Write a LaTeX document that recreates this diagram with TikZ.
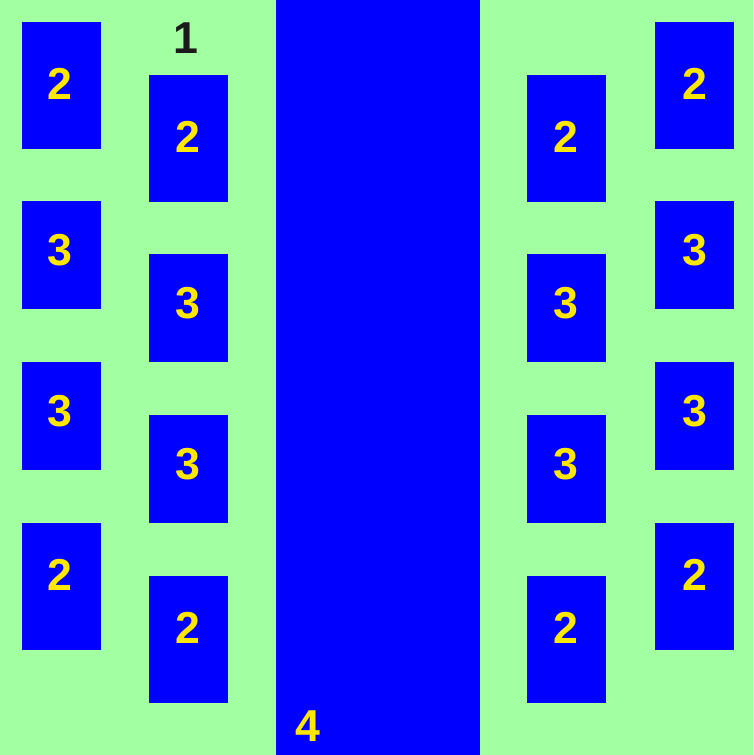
\documentclass[tikz,border=0pt]{standalone}
\usepackage{fontspec}
\setmainfont{Liberation Sans}
\definecolor{bggreen}{HTML}{A2FFA2}
\definecolor{padblue}{HTML}{0000FF}
\definecolor{lblyellow}{HTML}{FFE800}
\definecolor{lbldark}{HTML}{1A1A1A}
\tikzset{
  pad/.style={fill=padblue, draw=none, inner sep=0pt, minimum width=79pt},
  tallpad/.style={pad, minimum height=127pt},
  shortpad/.style={pad, minimum height=108pt},
  lbl/.style={inner sep=0pt, text=lblyellow, font=\fontsize{44.7}{50}\selectfont\bfseries},
  darklbl/.style={lbl, text=lbldark}
}
\begin{document}
\begin{tikzpicture}[x=1pt,y=-1pt]
\fill[bggreen] (0,0) rectangle (753,755);
\useasboundingbox (0,0) rectangle (753,755);
% central pad
\node[fill=padblue, inner sep=0pt, minimum width=204.5pt, minimum height=755pt] (center) at (378,377.5) {};
\node[lbl] (l4) at (308,726) {4};
% left outer
\node[tallpad] (lo1) at (61.5,85.5) {};
\node[shortpad] (lo2) at (61.5,255) {};
\node[shortpad] (lo3) at (61.5,416) {};
\node[tallpad] (lo4) at (61.5,586) {};
% left inner
\node[tallpad] (li1) at (188.5,138.5) {};
\node[shortpad] (li2) at (188.5,308) {};
\node[shortpad] (li3) at (188.5,469) {};
\node[tallpad] (li4) at (188.5,639) {};
% right inner
\node[tallpad] (ri1) at (566,138.5) {};
\node[shortpad] (ri2) at (566,308) {};
\node[shortpad] (ri3) at (566,469) {};
\node[tallpad] (ri4) at (566,639) {};
% right outer
\node[tallpad] (ro1) at (694.5,85.5) {};
\node[shortpad] (ro2) at (694.5,255) {};
\node[shortpad] (ro3) at (694.5,416) {};
\node[tallpad] (ro4) at (694.5,586) {};
% pad labels
\node[lbl] (tlo1) at (59.5,84) {2};
\node[lbl] (tlo2) at (59.5,250.5) {3};
\node[lbl] (tlo3) at (59.5,411) {3};
\node[lbl] (tlo4) at (59.5,575) {2};
\node[lbl] (tli1) at (188,137) {2};
\node[lbl] (tli2) at (188,303.5) {3};
\node[lbl] (tli3) at (188,464) {3};
\node[lbl] (tli4) at (188,628) {2};
\node[lbl] (tri1) at (566,137) {2};
\node[lbl] (tri2) at (566,303.5) {3};
\node[lbl] (tri3) at (566,464) {3};
\node[lbl] (tri4) at (566,628) {2};
\node[lbl] (tro1) at (694.5,84) {2};
\node[lbl] (tro2) at (694.5,250.5) {3};
\node[lbl] (tro3) at (694.5,411) {3};
\node[lbl] (tro4) at (694.5,575) {2};
% label 1
\node[darklbl] (l1) at (186,38.5) {1};
\end{tikzpicture}
\end{document}
